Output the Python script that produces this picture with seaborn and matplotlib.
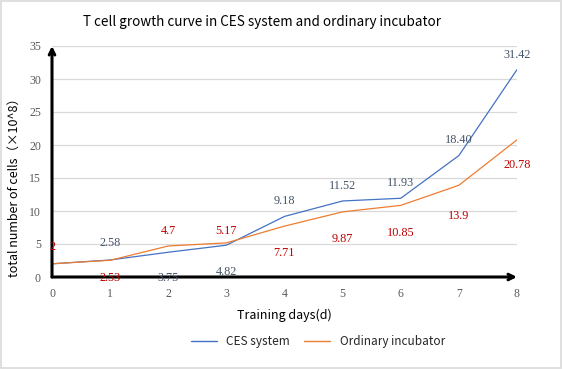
import matplotlib
matplotlib.use("Agg")
import matplotlib.pyplot as plt
import seaborn as sns
import pandas as pd

# ─── Data ────────────────────────────────────────────────────────────────────
days = [0, 1, 2, 3, 4, 5, 6, 7, 8]
ces_values = [2, 2.58, 3.75, 4.82, 9.18, 11.52, 11.93, 18.40, 31.42]
ordinary_values = [2, 2.53, 4.7, 5.17, 7.71, 9.87, 10.85, 13.9, 20.78]
ces_labels = ["", "2.58", "3.75", "4.82", "9.18", "11.52", "11.93", "18.40", "31.42"]
ordinary_labels = ["2", "2.53", "4.7", "5.17", "7.71", "9.87", "10.85", "13.9", "20.78"]
series_names = ["CES system", "Ordinary incubator"]

# label offsets in pixels (vertical), as placed in the source chart
ces_offsets = [15, 17, -26, -27, 15, 15, 15, 16, 15]
ordinary_offsets = [17, -18, 15, 12, -27, -27, -28, -31, -25]

df = pd.DataFrame({
    "day": days * 2,
    "cells": ces_values + ordinary_values,
    "series": [series_names[0]] * len(days) + [series_names[1]] * len(days),
})

sns.set_style("white")
plt.rcParams["font.family"] = ["Noto Sans CJK SC", "DejaVu Sans"]

fig = plt.figure(figsize=(5.63, 3.69), dpi=100)
ax = fig.add_axes([52 / 563, 1 - 277 / 369, 465 / 563, 231 / 369])

palette = {series_names[0]: "#4472C4", series_names[1]: "#ED7D31"}
sns.lineplot(data=df, x="day", y="cells", hue="series", palette=palette,
             linewidth=0.9, ax=ax, legend=False)

ax.set_xlim(0, 8)
ax.set_ylim(0, 35)
ax.set_xticks(days)
ax.set_yticks(range(0, 36, 5))
ax.grid(axis="y", color="#D9D9D9", linewidth=0.9)
ax.set_axisbelow(True)
for s in ax.spines.values():
    s.set_visible(False)
ax.tick_params(length=0, labelsize=8.5, colors="#595959", pad=8)
for lbl in ax.get_xticklabels() + ax.get_yticklabels():
    lbl.set_family("Liberation Serif")

# arrow axes
ax.annotate("", xy=(1.0, 0), xytext=(0, 0), xycoords="axes fraction",
            arrowprops=dict(arrowstyle="->", lw=2.2, color="black",
                            shrinkA=0, shrinkB=0), annotation_clip=False)
ax.annotate("", xy=(0, 1.0), xytext=(0, 0), xycoords="axes fraction",
            arrowprops=dict(arrowstyle="->", lw=2.2, color="black",
                            shrinkA=0, shrinkB=0), annotation_clip=False)

# data labels
for d, v, t, off in zip(days, ces_values, ces_labels, ces_offsets):
    if t:
        ax.annotate(t, (d, v), xytext=(0, off), textcoords="offset pixels",
                    ha="center", va="center", fontsize=8.8,
                    family="Liberation Serif", color="#44546A",
                    annotation_clip=False)
for d, v, t, off in zip(days, ordinary_values, ordinary_labels, ordinary_offsets):
    ax.annotate(t, (d, v), xytext=(0, off), textcoords="offset pixels",
                ha="center", va="center", fontsize=8.8,
                family="Liberation Serif", color="#C00000",
                annotation_clip=False)

ax.set_xlabel("Training days(d)", fontsize=9, color="black", labelpad=6)
ax.set_ylabel("total number of cells（×10^8）", fontsize=9, color="black")
ax.yaxis.set_label_coords(-31 / 465, 0.40)

fig.text(262 / 563, 1 - 22 / 369,
         "T cell growth curve in CES system and ordinary incubator",
         ha="center", va="center", fontsize=9.7, color="black")

handles = [plt.Line2D([], [], color=palette[n], lw=1) for n in series_names]
fig.legend(handles, series_names, loc="center", ncol=2,
           bbox_to_anchor=(318 / 563, 1 - 342 / 369), frameon=False,
           fontsize=8.5, handlelength=2.2, columnspacing=1.2)

# light chart border
fig.patches.append(plt.Rectangle((0.001, 0.002), 0.996, 0.995,
                                 transform=fig.transFigure, fill=False,
                                 edgecolor="#D9D9D9", linewidth=1.2))

fig.savefig("out.png", dpi=100)
